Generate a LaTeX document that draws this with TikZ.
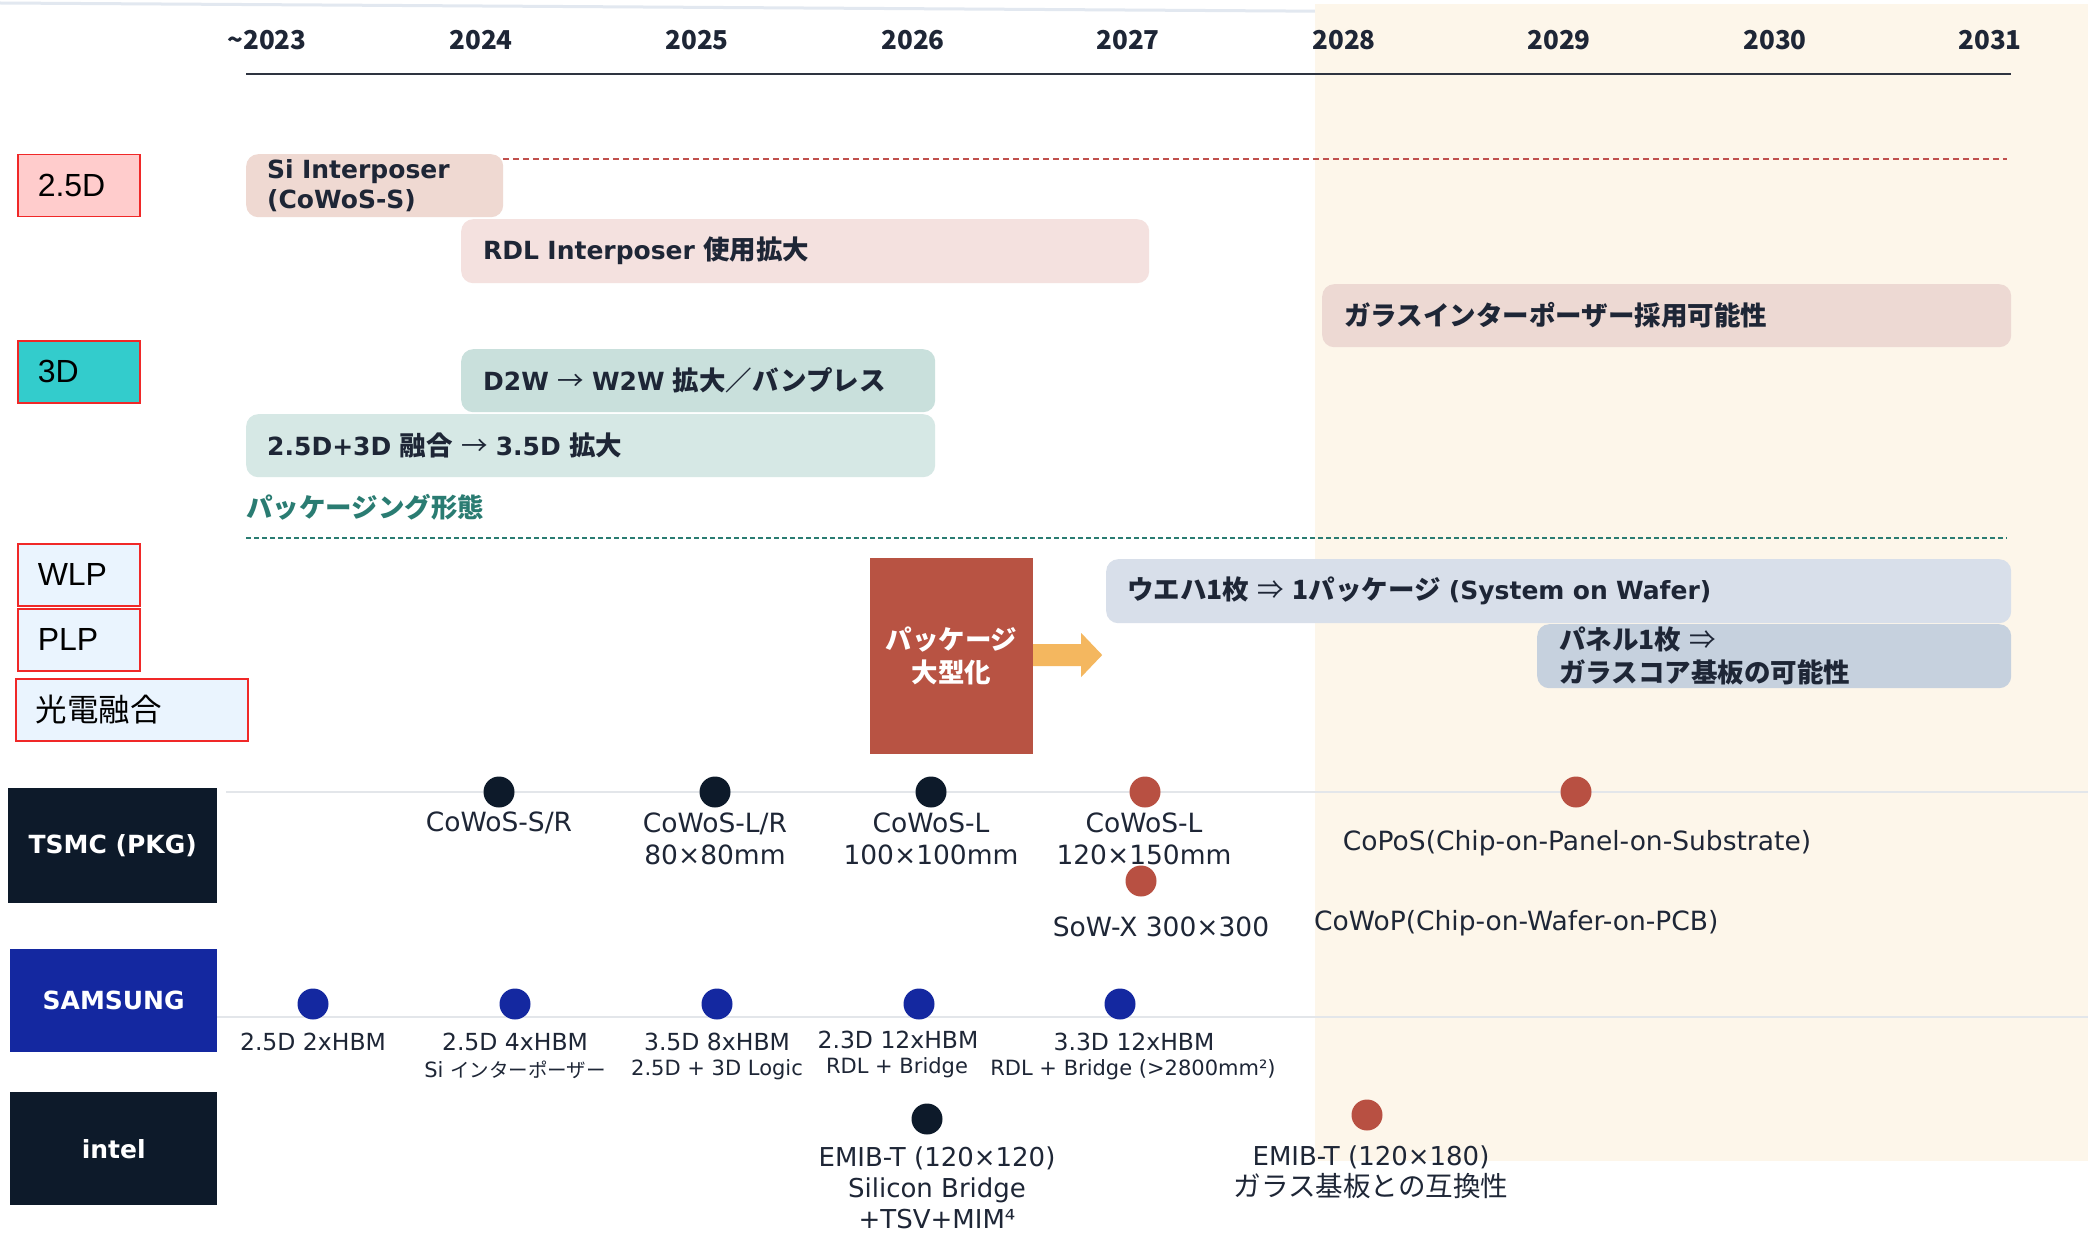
\documentclass[tikz,border=0pt]{standalone}
\usepackage{fontspec}
\setmainfont{DejaVu Sans}
\newfontfamily\jp[Scale=1.06]{Noto Sans CJK JP}
\newfontfamily\jpn{Noto Sans CJK JP}
\newfontfamily\lib{Liberation Sans}
\newcommand{\jtx}[1]{{\jp #1}}
\newcommand{\jarr}[1]{{\jp\mdseries #1}}
\definecolor{txt}{HTML}{1E2636}
\definecolor{colbeige}{HTML}{FDF6EA}
\definecolor{colaxis}{HTML}{2E3440}
\definecolor{catred}{HTML}{F02828}
\definecolor{col25}{HTML}{FFCCCC}
\definecolor{col3d}{HTML}{33CCCC}
\definecolor{colblue}{HTML}{EAF4FE}
\definecolor{csi}{HTML}{EFD9D2}
\definecolor{crdl}{HTML}{F4E1DF}
\definecolor{cglass}{HTML}{EDD9D3}
\definecolor{cd2w}{HTML}{C9E0DC}
\definecolor{cfuse}{HTML}{D6E8E5}
\definecolor{cteal}{HTML}{2A7C72}
\definecolor{cwafer}{HTML}{D8DFEA}
\definecolor{cpanel}{HTML}{C6D1DE}
\definecolor{cbig}{HTML}{B85343}
\definecolor{carrow}{HTML}{F4B75F}
\definecolor{cdark}{HTML}{0D1A2A}
\definecolor{csam}{HTML}{1428A0}
\definecolor{cred}{HTML}{B85042}
\definecolor{rowgray}{HTML}{E3E6EA}
\definecolor{dashred}{HTML}{C0504D}
\definecolor{topgray}{HTML}{E2E8F0}
\begin{document}
\begin{tikzpicture}[x=1pt,y=-1pt,
  yr/.style={font=\jpn\bfseries\fontsize{26}{30}\selectfont,text=txt,inner sep=0pt},
  cat/.style={draw=catred,line width=1.5pt,minimum height=62pt,anchor=north west,inner xsep=20pt,inner ysep=0pt,align=left,text=black,font=\lib\fontsize{32}{36}\selectfont},
  bar/.style={rounded corners=12pt,anchor=north west,inner ysep=0pt,align=left,text=txt,font=\bfseries\fontsize{25}{30}\selectfont},
  hdr/.style={anchor=north west,inner sep=0pt,text=white,font=\bfseries\fontsize{25}{30}\selectfont},
  dot/.style={circle,fill=#1,minimum size=31pt,inner sep=0pt},
  tlab/.style={align=center,inner sep=0pt,text=txt,font=\fontsize{26.5}{32}\selectfont},
  slab/.style={inner sep=0pt,text=txt,font=\fontsize{23.5}{28}\selectfont},
  ssub/.style={inner sep=0pt,text=txt,font=\fontsize{21}{25}\selectfont},
  ilab/.style={align=center,inner sep=0pt,text=txt,font=\fontsize{26}{31}\selectfont},
  rowline/.style={draw=rowgray,line width=1.5pt}
]
\useasboundingbox (0,0) rectangle (2088,1233);
\fill[white] (0,0) rectangle (2088,1233);
\coordinate (tg0) at (0,3);
\coordinate (tg1) at (2088,16);
\draw[topgray,line width=3pt] (tg0) -- (tg1);
\fill[colbeige] (1315,4) rectangle (2088,1161);

% years
\node[yr] (y23) at (267,40) {\textasciitilde 2023};
\node[yr] (y24) at (481,40) {2024};
\node[yr] (y25) at (697,40) {2025};
\node[yr] (y26) at (913,40) {2026};
\node[yr] (y27) at (1128,40) {2027};
\node[yr] (y28) at (1344,40) {2028};
\node[yr] (y29) at (1559,40) {2029};
\node[yr] (y30) at (1775,40) {2030};
\node[yr] (y31) at (1990,40) {2031};
\coordinate (axL) at (246,74);
\coordinate (axR) at (2011,74);
\draw[colaxis,line width=2.5pt] (axL) -- (axR);

% category labels
\node[cat,fill=col25,text width=82pt] (k25) at (17,154) {2.5D};
\node[cat,fill=col3d,text width=82pt] (k3d) at (17,340) {3D};
\node[cat,fill=colblue,text width=82pt] (kwlp) at (17,543) {WLP};
\node[cat,fill=colblue,text width=82pt] (kplp) at (17,608) {PLP};
\node[cat,fill=colblue,text width=192pt,font=\jpn\fontsize{31.5}{36}\selectfont] (kope) at (15,678) {光電融合};

% 2.5D bars
\coordinate (rdA) at (503,159);
\coordinate (rdB) at (2007,159);
\draw[dashred,line width=1.5pt,dash pattern=on 6pt off 4pt] (rdA) -- (rdB);
\node[bar,fill=csi,minimum height=63pt,text width=215pt,inner xsep=21pt] (si) at (246,154) {Si Interposer\\(CoWoS-S)};
\node[bar,fill=crdl,minimum height=64pt,text width=644pt,inner xsep=22pt] (rdl) at (461,219) {RDL Interposer \jtx{使用拡大}};
\node[bar,fill=cglass,minimum height=63pt,text width=645pt,inner xsep=22pt] (glass) at (1322,284) {\jtx{ガラスインターポーザー採用可能性}};

% 3D bars
\node[bar,fill=cd2w,minimum height=63pt,text width=430pt,inner xsep=22pt] (d2w) at (461,349) {D2W \jarr{→} W2W \jtx{拡大／バンプレス}};
\node[bar,fill=cfuse,minimum height=63pt,text width=647pt,inner xsep=21pt] (fuse) at (246,414) {2.5D+3D \jtx{融合} \jarr{→} 3.5D \jtx{拡大}};
\node[anchor=west,inner sep=0pt,text=cteal,font=\jp\bfseries\fontsize{25}{30}\selectfont] (pkgform) at (246,507) {パッケージング形態};
\coordinate (tdA) at (246,538);
\coordinate (tdB) at (2007,538);
\draw[cteal,line width=2pt,dash pattern=on 5pt off 3pt] (tdA) -- (tdB);

% WLP / PLP
\node[fill=cbig,minimum width=163pt,minimum height=196pt,inner sep=0pt,align=center,text=white,font=\jp\bfseries\fontsize{25}{33}\selectfont] (big) at (951.5,656) {パッケージ\\大型化};
\fill[carrow] (big.east) ++(0,-12) -- ++(48,0) -- ++(0,-11) -- ++(21,22) -- ++(-21,22) -- ++(0,-11) -- ++(-48,0) -- cycle;
\node[bar,fill=cwafer,minimum height=64pt,text width=863pt,inner xsep=21pt] (wafer) at (1106,559) {\jtx{ウエハ1枚} \jarr{⇒} \jtx{1パッケージ} (System on Wafer)};
\node[bar,fill=cpanel,minimum height=64pt,text width=430pt,inner xsep=22pt,font=\bfseries\fontsize{25}{33}\selectfont] (panel) at (1537,624) {\jtx{パネル1枚} \jarr{⇒}\\\jtx{ガラスコア基板の可能性}};

% row headers
\node[hdr,fill=cdark,minimum width=209pt,minimum height=115pt] (tsmc) at (8,788) {TSMC (PKG)};
\node[hdr,fill=csam,minimum width=207pt,minimum height=103pt] (sam) at (10,949) {SAMSUNG};
\node[hdr,fill=cdark,minimum width=207pt,minimum height=113pt] (intel) at (10,1092) {intel};

% row lines
\coordinate (tl0) at (226,792);
\coordinate (tl1) at (2088,792);
\draw[rowline] (tl0) -- (tl1);
\coordinate (sl0) at (217,1017);
\coordinate (sl1) at (2088,1017);
\draw[rowline] (sl0) -- (sl1);

% TSMC
\node[dot=cdark] (t1) at (499,792) {};
\node[dot=cdark] (t2) at (715,792) {};
\node[dot=cdark] (t3) at (931,792) {};
\node[dot=cred] (t4) at (1145,792) {};
\node[dot=cred] (t5) at (1576,792) {};
\node[dot=cred] (t6) at (1141,881) {};
\node[tlab] (tl1lab) at (499,823) {CoWoS-S/R};
\node[tlab] (tl2lab) at (715,839) {CoWoS-L/R\\80×80mm};
\node[tlab] (tl3lab) at (931,839) {CoWoS-L\\100×100mm};
\node[tlab] (tl4lab) at (1144,839) {CoWoS-L\\120×150mm};
\node[tlab] (tl6lab) at (1161,927) {SoW-X 300×300};
\node[tlab] (tl5lab) at (1577,843) {CoPoS(Chip-on-Panel-on-Substrate)};
\node[tlab,anchor=west] (tl7lab) at (1314,923) {CoWoP(Chip-on-Wafer-on-PCB)};

% Samsung
\node[dot=csam] (s1) at (313,1004) {};
\node[dot=csam] (s2) at (515,1004) {};
\node[dot=csam] (s3) at (717,1004) {};
\node[dot=csam] (s4) at (919,1004) {};
\node[dot=csam] (s5) at (1120,1004) {};
\node[slab] (s1a) at (313,1042) {2.5D 2xHBM};
\node[slab] (s2a) at (515,1042) {2.5D 4xHBM};
\node[ssub] (s2b) at (515,1070) {Si {\jpn\fontsize{19.5}{25}\selectfont インターポーザー}};
\node[slab] (s3a) at (717,1042) {3.5D 8xHBM};
\node[ssub] (s3b) at (717,1070) {2.5D + 3D Logic};
\node[slab] (s4a) at (898,1040) {2.3D 12xHBM};
\node[ssub] (s4b) at (897,1068) {RDL + Bridge};
\node[slab] (s5a) at (1134,1042) {3.3D 12xHBM};
\node[ssub] (s5b) at (1133,1070) {RDL + Bridge (>2800mm²)};

% Intel
\node[dot=cdark] (i1) at (927,1119) {};
\node[dot=cred] (i2) at (1367,1115) {};
\node[ilab] (i1lab) at (937,1188) {EMIB-T (120×120)\\Silicon Bridge\\+TSV+MIM⁴};
\node[ilab] (i2lab) at (1371,1172) {EMIB-T (120×180)\\\jtx{ガラス基板との互換性}};
\end{tikzpicture}
\end{document}
